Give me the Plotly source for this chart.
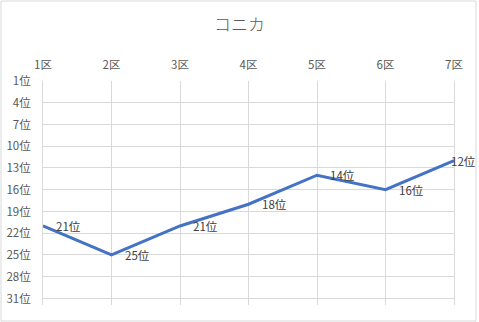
import plotly.graph_objects as go

categories = ["1区", "2区", "3区", "4区", "5区", "6区", "7区"]
ranks = [21, 25, 21, 18, 14, 16, 12]
rank_labels = [f"{r}位" for r in ranks]
ytick_vals = list(range(1, 32, 3))
ytick_text = [f"{v}位" for v in ytick_vals]
label_shift = [11, 11, 11, 11, 11, 11, -5]

FONT = "Noto Sans CJK JP"
fig = go.Figure()
fig.add_trace(go.Scatter(
    x=categories, y=ranks, mode="lines",
    line=dict(color="#4472C4", width=3),
    hoverinfo="skip", showlegend=False,
))
for c, r, t, s in zip(categories, ranks, rank_labels, label_shift):
    fig.add_annotation(x=c, y=r, text=t, showarrow=False, xanchor="left",
                       yanchor="middle", xshift=s,
                       font=dict(family=FONT, size=11.5, color="#404040"))

fig.update_layout(
    width=479, height=322,
    margin=dict(l=43, r=25, t=81, b=17),
    paper_bgcolor="white", plot_bgcolor="white",
    title=dict(text="コニカ", x=0.5, xanchor="center", y=1 - 25 / 322, yanchor="middle",
               font=dict(family=FONT, size=17, color="#595959", weight=300)),
    font=dict(family=FONT, size=11.5, color="#595959"),
    xaxis=dict(type="category", side="top", range=[0, 6], automargin=False,
               showgrid=True, gridcolor="#D9D9D9", gridwidth=1,
               showline=False, zeroline=False, ticks="",
               ticklabelstandoff=9,
               tickfont=dict(family=FONT, size=11.5, color="#595959")),
    yaxis=dict(range=[31.9, 1], tickvals=ytick_vals, ticktext=ytick_text,
               automargin=False,
               showgrid=True, gridcolor="#D9D9D9", gridwidth=1,
               showline=True, linecolor="#D9D9D9", mirror=True,
               zeroline=False, ticks="", ticklabelstandoff=9,
               tickfont=dict(family=FONT, size=11.5, color="#595959")),
    shapes=[dict(type="rect", xref="paper", yref="paper",
                 x0=-42 / 411, x1=1 + 22 / 411, y0=-16 / 224, y1=1 + 80 / 224,
                 line=dict(color="#D9D9D9", width=1), fillcolor="rgba(0,0,0,0)",
                 layer="below")],
)
fig.write_html("out.html")
